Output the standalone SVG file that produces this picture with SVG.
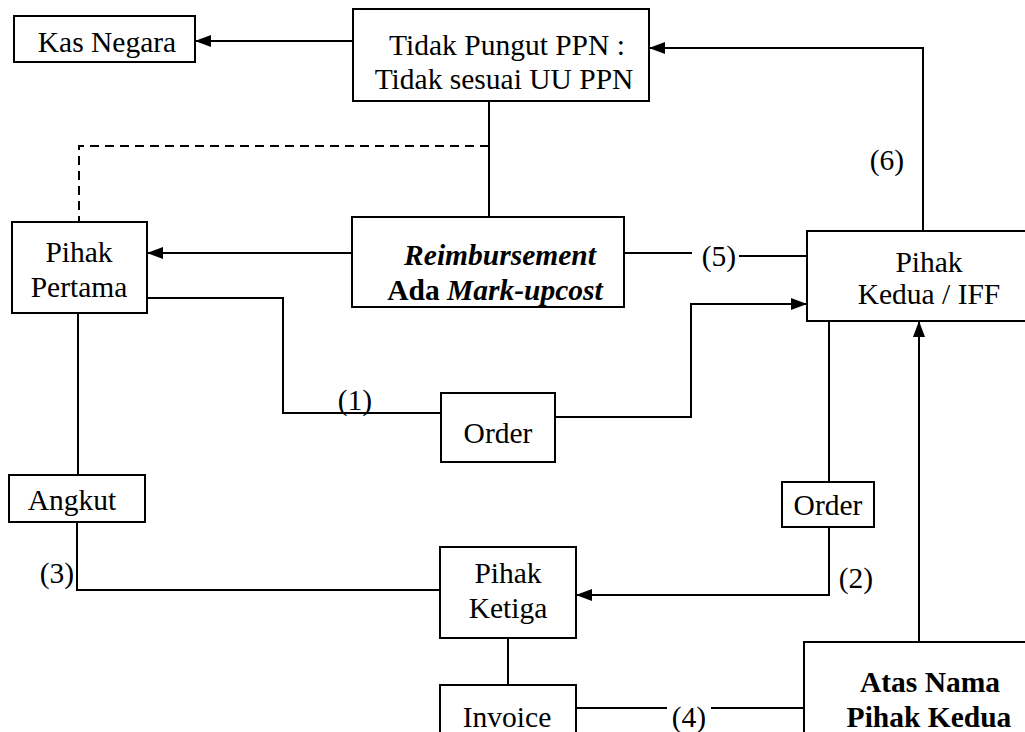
<svg xmlns="http://www.w3.org/2000/svg" width="1025" height="732" viewBox="0 0 1025 732">
<style>
.box{fill:#fff;stroke:#000;stroke-width:2}
.ln{fill:none;stroke:#000;stroke-width:2}
.dash{fill:none;stroke:#000;stroke-width:2;stroke-dasharray:9,6}
text{font-family:'Liberation Serif','Times New Roman',Tinos,'DejaVu Serif',serif;font-size:29.5px;fill:#000;text-anchor:middle}
.b{font-weight:bold}
.bi{font-weight:bold;font-style:italic}
</style>
<defs>
<marker id="ah" markerWidth="16" markerHeight="12" refX="15" refY="6" orient="auto" markerUnits="userSpaceOnUse">
<path d="M0,0 L16,6 L0,12 Z" fill="#000"/>
</marker>
</defs>
<rect width="1025" height="732" fill="#fff"/>
<g id="connectors">
<path class="ln" d="M353,41 H196" marker-end="url(#ah)"/>
<path class="ln" d="M489,101 V217"/>
<path class="dash" d="M489,146 H79 V222"/>
<path class="ln" d="M352,253 H148" marker-end="url(#ah)"/>
<path class="ln" d="M923,231 V48 H650" marker-end="url(#ah)"/>
<path class="ln" d="M624,253 H692"/>
<path class="ln" d="M739,256 H807"/>
<path class="ln" d="M147,298 H283 V413 H441"/>
<path class="ln" d="M555,417 H691 V304 H806" marker-end="url(#ah)"/>
<path class="ln" d="M78,313 V475"/>
<path class="ln" d="M77,522 V590 H440"/>
<path class="ln" d="M829,321 V482"/>
<path class="ln" d="M829,527 V595 H577" marker-end="url(#ah)"/>
<path class="ln" d="M919,642 V322" marker-end="url(#ah)"/>
<path class="ln" d="M508,638 V685"/>
<path class="ln" d="M576,708 H667"/>
<path class="ln" d="M711,708 H804"/>
<text x="887" y="170">(6)</text>
<text x="719" y="266">(5)</text>
<text x="355" y="410">(1)</text>
<text x="57" y="583">(3)</text>
<text x="856" y="588">(2)</text>
<text x="689" y="727">(4)</text>
</g>
<g id="kas-negara">
<rect class="box" x="14" y="16" width="181" height="46"/>
<text x="107" y="52">Kas Negara</text>
</g>
<g id="tidak-pungut">
<rect class="box" x="353" y="9" width="296" height="92"/>
<text x="507" y="55">Tidak Pungut PPN :</text>
<text x="504" y="89">Tidak sesuai UU PPN</text>
</g>
<g id="pihak-pertama">
<rect class="box" x="12" y="222" width="135" height="91"/>
<text x="79" y="262">Pihak</text>
<text x="79" y="297">Pertama</text>
</g>
<g id="reimbursement">
<rect class="box" x="352" y="217" width="272" height="90"/>
<text class="bi" x="500" y="265">Reimbursement</text>
<text class="b" x="495" y="300">Ada <tspan font-style="italic">Mark-upcost</tspan></text>
</g>
<g id="pihak-kedua">
<rect class="box" x="807" y="231" width="230" height="90"/>
<text x="929" y="272">Pihak</text>
<text x="929" y="304">Kedua / IFF</text>
</g>
<g id="order-1">
<rect class="box" x="441" y="393" width="114" height="69"/>
<text x="498" y="443">Order</text>
</g>
<g id="angkut">
<rect class="box" x="9" y="475" width="136" height="47"/>
<text x="72" y="510">Angkut</text>
</g>
<g id="order-2">
<rect class="box" x="782" y="482" width="92" height="45"/>
<text x="828" y="515">Order</text>
</g>
<g id="pihak-ketiga">
<rect class="box" x="440" y="547" width="136" height="91"/>
<text x="508" y="583">Pihak</text>
<text x="508" y="618">Ketiga</text>
</g>
<g id="invoice">
<rect class="box" x="440" y="685" width="136" height="60"/>
<text x="507" y="727">Invoice</text>
</g>
<g id="atas-nama">
<rect class="box" x="804" y="642" width="240" height="110"/>
<text class="b" x="930" y="692">Atas Nama</text>
<text class="b" x="929" y="727">Pihak Kedua</text>
</g>
</svg>
